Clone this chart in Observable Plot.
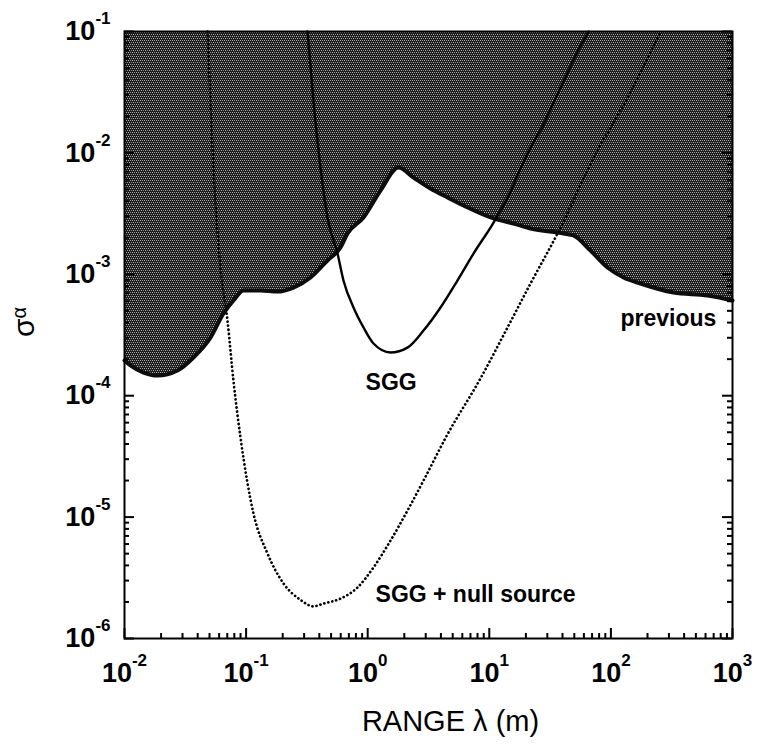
<!DOCTYPE html>
<html>
<head>
<meta charset="utf-8">
<script src="https://cdn.jsdelivr.net/npm/d3@7"></script>
<script src="https://cdn.jsdelivr.net/npm/@observablehq/plot@0.6"></script>
<style>
  html, body { margin: 0; padding: 0; background: #ffffff; }
  #chart { width: 764px; height: 752px; position: relative; }
</style>
</head>
<body>
<div id="chart"></div>
<script>
// ---- data ----
// lower boundary of the "previous" excluded (shaded) region
const previousLambda = [0.0100, 0.01119, 0.01432, 0.01866, 0.02729, 0.03690, 0.05093, 0.06516, 0.07870, 0.09528,
  0.1312, 0.1811, 0.2455, 0.3388, 0.4667, 0.5970, 0.6823, 0.9226, 1.274, 1.791,
  2.382, 3.281, 4.529, 6.138, 10.84, 15.81, 21.83, 40.74, 49.20, 67.92,
  93.76, 127.1, 175.0, 327.3, 622.3, 1000];
const previousSigma = [1.95e-4, 1.774e-4, 1.552e-4, 1.466e-4, 1.614e-4, 2.065e-4, 3.013e-4, 4.753e-4, 6.081e-4, 7.362e-4,
  7.362e-4, 7.211e-4, 7.780e-4, 9.419e-4, 1.300e-3, 1.663e-3, 2.168e-3, 2.938e-3, 4.898e-3, 7.586e-3,
  6.266e-3, 5.093e-3, 4.295e-3, 3.690e-3, 2.884e-3, 2.618e-3, 2.382e-3, 2.168e-3, 2.089e-3, 1.570e-3,
  1.138e-3, 9.419e-4, 8.395e-4, 7.079e-4, 6.683e-4, 6.081e-4];

// SGG sensitivity (solid)
const sggLambda = [0.320, 0.358, 0.409, 0.467, 0.565, 0.632, 0.764, 0.923, 1.116, 1.541,
  2.123, 2.877, 3.972, 5.470, 7.413, 10.84, 14.13, 21.83, 26.36, 38.53, 59.57, 65.46];
const sggSigma = [0.1, 2.70e-2, 7.59e-3, 2.94e-3, 1.48e-3, 8.89e-4, 5.33e-4, 3.65e-4, 2.69e-4, 2.27e-4,
  2.49e-4, 3.44e-4, 5.33e-4, 8.89e-4, 1.48e-3, 2.67e-3, 4.30e-3, 1.11e-2, 1.53e-2, 3.46e-2, 8.43e-2, 0.1];

// SGG + null source sensitivity (dotted)
const nullLambda = [0.0482, 0.0509, 0.0539, 0.0615, 0.0703, 0.0787, 0.0899, 0.115, 0.150, 0.203,
  0.280, 0.358, 0.433, 0.597, 0.824, 1.116, 1.541, 2.123, 2.877, 4.529,
  8.47, 14.13, 21.83, 36.4, 77.6, 120, 256];
const nullSigma = [0.1, 2.70e-2, 7.59e-3, 1.14e-3, 4.16e-4, 1.33e-4, 4.53e-5, 1.07e-5, 5.01e-6, 2.84e-6,
  2.08e-6, 1.84e-6, 1.94e-6, 2.13e-6, 2.63e-6, 3.85e-6, 6.41e-6, 1.13e-5, 2.00e-5, 4.8e-5,
  1.39e-4, 3.65e-4, 8.40e-4, 2.17e-3, 1.05e-2, 2.23e-2, 0.1];

// axes
const xTickValues = [0.01, 0.1, 1, 10, 100, 1000];
const xTickLabels = ["10^-2", "10^-1", "10^0", "10^1", "10^2", "10^3"];
const yTickValues = [1e-6, 1e-5, 1e-4, 1e-3, 1e-2, 1e-1];
const yTickLabels = ["10^-6", "10^-5", "10^-4", "10^-3", "10^-2", "10^-1"];
const minorMultipliers = [2, 3, 4, 5, 6, 7, 8, 9];

// annotations
const curveLabels = ["previous", "SGG", "SGG + null source"];
const labelLambda = [120, 0.96, 1.16];
const labelSigma = [4.35e-4, 1.27e-4, 2.28e-6];
const xTitle = "RANGE λ (m)";
const yTitle = "σα";

// ---- build tables ----
const prev = previousLambda.map((x, i) => ({x, y: previousSigma[i]}));
const sgg = sggLambda.map((x, i) => ({x, y: sggSigma[i]}));
const nul = nullLambda.map((x, i) => ({x, y: nullSigma[i]}));
const xMinor = xTickValues.slice(0, -1).flatMap(d => minorMultipliers.map(k => d * k));
const yMinor = yTickValues.slice(0, -1).flatMap(d => minorMultipliers.map(k => d * k));
const fmtX = d => xTickLabels[xTickValues.indexOf(d)] ?? "";
const fmtY = d => yTickLabels[yTickValues.indexOf(d)] ?? "";
const FONT = "'Liberation Sans', Arial, Helvetica, sans-serif";

const W = 764, H = 752, ML = 124, MR = 32, MT = 31, MB = 114;
const FW = W - ML - MR, FH = H - MT - MB;
// inward tick marks as short rules inset from the frame edges
const xTicksIn = (values, len, sw) => Plot.ruleX(values, {x: d => d, insetTop: FH - len, stroke: "#000", strokeWidth: sw});
const yTicksLeft = (values, len, sw) => Plot.ruleY(values, {y: d => d, insetRight: FW - len, stroke: "#000", strokeWidth: sw});
const yTicksRight = (values, len, sw) => Plot.ruleY(values, {y: d => d, insetLeft: FW - len, stroke: "#000", strokeWidth: sw});

const svg = Plot.plot({
  width: W,
  height: H,
  marginLeft: ML,
  marginRight: MR,
  marginTop: MT,
  marginBottom: MB,
  x: {type: "log", domain: [0.01, 1000]},
  y: {type: "log", domain: [1e-6, 0.1]},
  style: {fontFamily: FONT, background: "#ffffff", color: "#000000", overflow: "visible"},
  marks: [
    Plot.areaY(prev, {x: "x", y1: "y", y2: 0.1, fill: "url(#halftone)", curve: "monotone-x"}),
    Plot.line(prev, {x: "x", y: "y", stroke: "#0d0d0d", strokeWidth: 4, curve: "monotone-x"}),
    Plot.line(sgg, {x: "x", y: "y", stroke: "#000", strokeWidth: 2.4, curve: "monotone-x"}),
    Plot.line(nul, {x: "x", y: "y", stroke: "#000", strokeWidth: 2.7, strokeDasharray: "0.1 4", strokeLinecap: "round", curve: "monotone-x"}),
    Plot.frame({stroke: "#000", strokeWidth: 2}),
    xTicksIn(xTickValues, 10, 2),
    xTicksIn(xMinor, 5, 2),
    yTicksLeft(yTickValues, 10, 2),
    yTicksLeft(yMinor, 5, 2),
    yTicksRight(yTickValues, 10, 2),
    yTicksRight(yMinor, 5, 2),
    // tick labels
    Plot.axisX(xTickValues, {anchor: "bottom", tickSize: 0, tickPadding: 24, tickFormat: fmtX, label: null, fontSize: 27, fontWeight: "bold"}),
    Plot.axisY(yTickValues, {anchor: "left", tickSize: 0, tickPadding: 14, tickFormat: fmtY, label: null, fontSize: 27, fontWeight: "bold"}),
    // curve labels
    Plot.text(curveLabels, {x: (d, i) => labelLambda[i], y: (d, i) => labelSigma[i], text: d => d, textAnchor: "start", fontSize: 23, fontWeight: "bold", fill: "#000"}),
    // axis titles
    Plot.text([xTitle], {frameAnchor: "bottom", dx: 22, dy: 92, text: d => d, fontSize: 29, fill: "#000"}),
    Plot.text([yTitle], {frameAnchor: "left", dx: -100, dy: 2, rotate: -90, text: d => d, fontSize: 30, fill: "#000"})
  ]
});

// halftone-like texture for the shaded region
const NS = "http://www.w3.org/2000/svg";
const defs = document.createElementNS(NS, "defs");
defs.innerHTML = '<pattern id="halftone" width="4" height="4" patternUnits="userSpaceOnUse">' +
  '<rect width="4" height="4" fill="#1c1c1c"/>' +
  '<rect x="0" y="0" width="1" height="1" fill="#b4b4b4"/>' +
  '<rect x="2" y="0" width="1" height="1" fill="#9a9a9a"/>' +
  '<rect x="1" y="2" width="1" height="1" fill="#b4b4b4"/>' +
  '<rect x="3" y="2" width="1" height="1" fill="#8c8c8c"/>' +
  '</pattern>';
svg.insertBefore(defs, svg.firstChild);

// superscript exponents in tick labels, raised alpha in the y title
svg.querySelectorAll("text").forEach(t => {
  const s = t.textContent;
  const m = s.match(/^10\^(-?\d+)$/);
  if (m) {
    t.textContent = "10";
    const sup = document.createElementNS(NS, "tspan");
    sup.setAttribute("dy", "-16");
    sup.setAttribute("font-size", "17");
    sup.textContent = m[1];
    t.appendChild(sup);
  } else if (s === yTitle) {
    t.textContent = "σ";
    const sub = document.createElementNS(NS, "tspan");
    sub.setAttribute("dy", "-8");
    sub.setAttribute("font-size", "20");
    sub.textContent = "α";
    t.appendChild(sub);
  }
});

document.getElementById("chart").appendChild(svg);
</script>
</body>
</html>
